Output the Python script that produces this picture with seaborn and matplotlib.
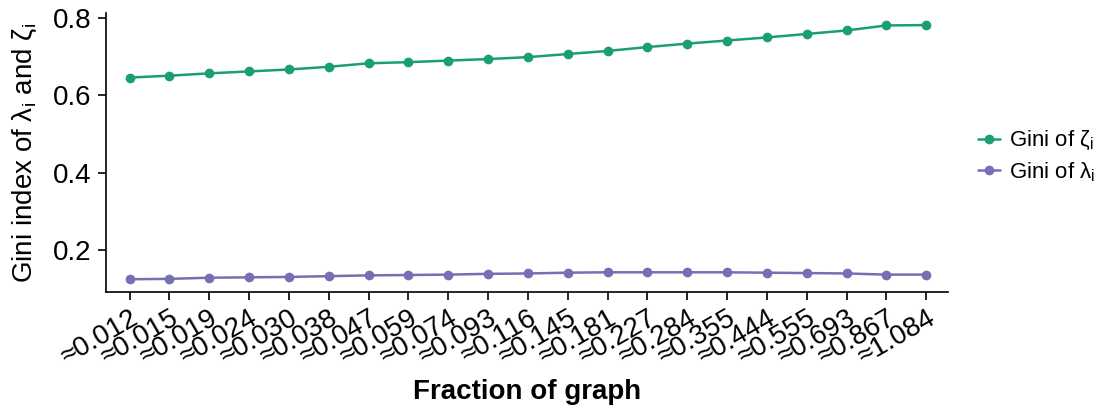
import numpy as np
import pandas as pd
import matplotlib
matplotlib.use("Agg")
import matplotlib.pyplot as plt
import seaborn as sns

# Fraction of graph used at each step
fractions = ["0.012", "0.015", "0.019", "0.024", "0.030", "0.038", "0.047",
             "0.059", "0.074", "0.093", "0.116", "0.145", "0.181", "0.227",
             "0.284", "0.355", "0.444", "0.555", "0.693", "0.867", "1.084"]

# Gini index of zeta_i
gini_zeta = [0.646, 0.651, 0.657, 0.662, 0.667, 0.674, 0.683, 0.686, 0.690,
             0.694, 0.699, 0.707, 0.715, 0.725, 0.734, 0.742, 0.750, 0.759,
             0.768, 0.781, 0.782]

# Gini index of lambda_i
gini_lambda = [0.124, 0.125, 0.128, 0.129, 0.130, 0.132, 0.134, 0.135, 0.136,
               0.138, 0.139, 0.141, 0.142, 0.142, 0.142, 0.142, 0.141, 0.140,
               0.139, 0.136, 0.136]

series_names = ["Gini of ζ$_\\mathrm{i}$", "Gini of λ$_\\mathrm{i}$"]
palette = ["#1b9e77", "#7570b3"]

sns.set_style("ticks")
plt.rcParams["font.family"] = ["Liberation Sans", "DejaVu Sans"]
plt.rcParams["mathtext.fontset"] = "custom"
plt.rcParams["mathtext.rm"] = "Liberation Sans"
plt.rcParams["mathtext.it"] = "Liberation Sans"
plt.rcParams["text.color"] = "black"
plt.rcParams["axes.labelcolor"] = "black"

pos = np.arange(len(fractions))
df = pd.concat([
    pd.DataFrame({"pos": pos, "gini": gini_zeta, "series": series_names[0]}),
    pd.DataFrame({"pos": pos, "gini": gini_lambda, "series": series_names[1]}),
])

fig = plt.figure(figsize=(11, 4.09), dpi=100)
ax = fig.add_axes([0.096, 0.287, 0.766, 0.681])

sns.lineplot(data=df, x="pos", y="gini", hue="series", palette=palette,
             marker="o", markersize=7, markeredgewidth=0, linewidth=1.8,
             ax=ax, legend=True)

ax.set_xlim(-0.6, 20.55)
ax.set_ylim(0.092, 0.813)
ax.set_yticks([0.2, 0.4, 0.6, 0.8])
ax.set_yticklabels(["0.2", "0.4", "0.6", "0.8"], fontsize=20)
ax.set_xticks(pos)
ax.set_xticklabels(["≈" + f for f in fractions], fontsize=20, rotation=30,
                   ha="right", rotation_mode="anchor")
ax.tick_params(axis="both", length=6, width=1.2, colors="black",
               labelcolor="black", pad=4)

ax.set_xlabel("Fraction of graph", fontsize=20, fontweight="bold", labelpad=6)
ax.set_ylabel("Gini index of λ$_\\mathrm{i}$ and ζ$_\\mathrm{i}$", fontsize=20,
              labelpad=10)

for side in ["top", "right"]:
    ax.spines[side].set_visible(False)
for side in ["left", "bottom"]:
    ax.spines[side].set_linewidth(1.2)
    ax.spines[side].set_color("black")

ax.legend(title=None, frameon=False, fontsize=16, loc="center left",
          bbox_to_anchor=(1.030, 0.485), handlelength=1.0, handletextpad=0.4,
          labelspacing=0.35, borderpad=0.2, borderaxespad=0.0)

fig.savefig("out.png", dpi=100)
